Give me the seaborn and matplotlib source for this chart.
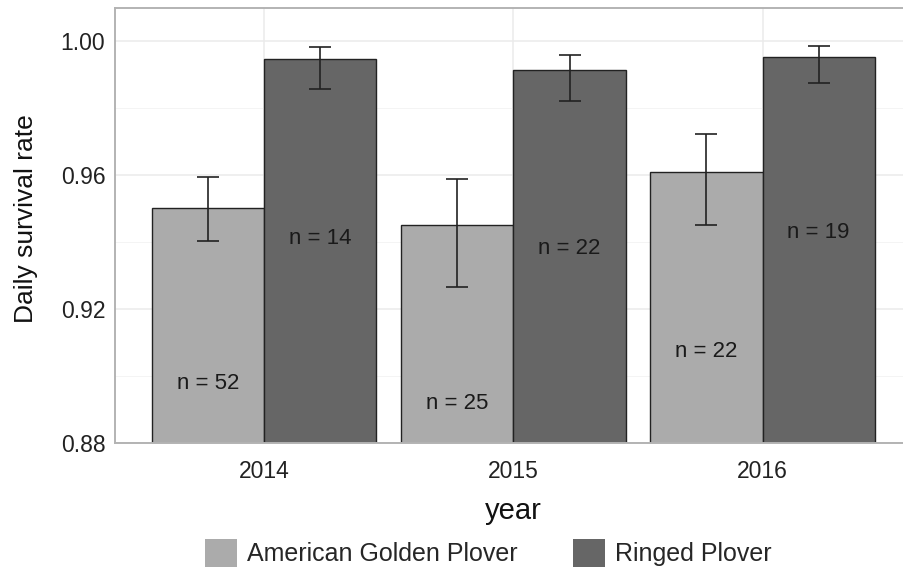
import seaborn as sns
import matplotlib.pyplot as plt
from matplotlib.patches import Patch
import pandas as pd

years = ["2014", "2015", "2016"]
species = ["American Golden Plover", "Ringed Plover"]
agp_rate = [0.9501, 0.9451, 0.9609]
agp_low = [0.9403, 0.9266, 0.9451]
agp_high = [0.9594, 0.9588, 0.9722]
rp_rate = [0.9946, 0.9913, 0.9952]
rp_low = [0.9857, 0.9821, 0.9875]
rp_high = [0.9982, 0.9958, 0.9985]
agp_n = ["n = 52", "n = 25", "n = 22"]
rp_n = ["n = 14", "n = 22", "n = 19"]
agp_label_y = [0.8979, 0.8919, 0.9072]
rp_label_y = [0.9412, 0.9382, 0.9430]

colors = ["#ababab", "#666666"]

df = pd.DataFrame({
    "year": years * 2,
    "species": [species[0]] * 3 + [species[1]] * 3,
    "rate": agp_rate + rp_rate,
    "low": agp_low + rp_low,
    "high": agp_high + rp_high,
    "label": agp_n + rp_n,
    "label_y": agp_label_y + rp_label_y,
})

sns.set_style("white")
plt.rcParams["font.family"] = ["Liberation Sans", "DejaVu Sans"]

fig = plt.figure(figsize=(9.04, 5.73), dpi=100)
ax = fig.add_axes([0.1272, 0.2269, 0.8816, 0.7591])

sns.barplot(data=df, x="year", y="rate", hue="species", palette=colors,
            width=0.9, gap=0, errorbar=None, edgecolor="#222222", linewidth=1.0,
            legend=False, ax=ax, zorder=2)

# bars come hue by hue, years in order
bars = ax.patches[:6]
for bar, (_, row) in zip(bars, df.iterrows()):
    xc = bar.get_x() + bar.get_width() / 2
    ax.errorbar(xc, row["rate"],
                yerr=[[row["rate"] - row["low"]], [row["high"] - row["rate"]]],
                fmt="none", ecolor="#222222", elinewidth=1.2, capsize=8,
                capthick=1.2, zorder=3)
    ax.text(xc, row["label_y"], row["label"], ha="center", va="center",
            fontsize=16, color="#1a1a1a", zorder=4)

ax.set_ylim(0.88, 1.0099)
ax.set_xlim(-0.6, 2.6)
ax.set_yticks([0.88, 0.92, 0.96, 1.00])
ax.set_yticklabels(["0.88", "0.92", "0.96", "1.00"])
ax.set_yticks([0.90, 0.94, 0.98], minor=True)
ax.grid(True, which="major", color="#ebebeb", linewidth=1.1, zorder=0)
ax.grid(True, which="minor", axis="y", color="#f3f3f3", linewidth=0.6, zorder=0)
ax.set_axisbelow(True)

for s in ax.spines.values():
    s.set_visible(True)
    s.set_color("#b3b3b3")
    s.set_linewidth(1.4)

ax.tick_params(axis="both", which="major", length=4, width=1, color="#9a9a9a",
               labelsize=16.5, labelcolor="#222222", pad=3)
ax.tick_params(axis="x", which="major", pad=8)
ax.tick_params(axis="both", which="minor", length=0)
ax.set_xlabel("year", fontsize=21, color="#111111", labelpad=10)
ax.set_ylabel("Daily survival rate", fontsize=19, color="#111111")
ax.yaxis.set_label_coords(-0.097, 0.515)

handles = [Patch(facecolor=c, edgecolor="none") for c in colors]
fig.legend(handles, species, loc="lower center", bbox_to_anchor=(0.54, -0.028),
           ncol=2, frameon=False, fontsize=18, handlelength=1.3,
           handleheight=1.3, handletextpad=0.4, columnspacing=2.2)

fig.savefig("out.png", dpi=100)
